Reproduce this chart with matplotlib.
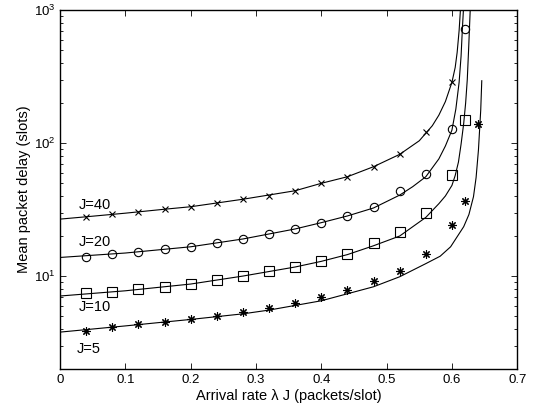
import matplotlib
matplotlib.use('Agg')
import matplotlib.pyplot as plt
from matplotlib.ticker import NullFormatter, LogLocator

plt.rcParams['font.family'] = ['Liberation Sans', 'DejaVu Sans']
plt.rcParams['mathtext.fontset'] = 'custom'
plt.rcParams['mathtext.rm'] = 'Liberation Sans'
plt.rcParams['mathtext.it'] = 'Liberation Sans:italic'

# analytic curves
j40_x = [0, 0.04, 0.1, 0.16, 0.2, 0.28, 0.36, 0.4, 0.44, 0.48, 0.52, 0.55, 0.57, 0.58,
         0.59, 0.6, 0.605, 0.608, 0.611, 0.613]
j40_y = [26.8, 27.9, 29.7, 31.8, 33.2, 37.8, 43.8, 49.8, 55.8, 66.4, 82.2, 104, 135, 162,
         205, 286, 370, 480, 700, 1000]
j20_x = [0, 0.1, 0.2, 0.28, 0.36, 0.4, 0.44, 0.48, 0.52, 0.54, 0.56, 0.58, 0.59, 0.6,
         0.606, 0.611, 0.614, 0.616, 0.6176]
j20_y = [13.8, 14.9, 16.6, 19.0, 22.6, 25.2, 28.3, 32.5, 40.6, 47, 55.8, 76, 95, 125,
         180, 286, 450, 720, 1000]
j10_x = [0, 0.1, 0.2, 0.28, 0.36, 0.4, 0.44, 0.48, 0.52, 0.56, 0.58, 0.59, 0.6, 0.605,
         0.61, 0.614, 0.618, 0.621, 0.6235, 0.6255, 0.628]
j10_y = [7.08, 7.75, 8.71, 10.0, 11.7, 12.9, 14.5, 16.9, 20.0, 27.6, 35, 40, 48, 57,
         72, 98, 140, 200, 300, 500, 1000]
j5_x = [0, 0.1, 0.2, 0.28, 0.32, 0.4, 0.48, 0.52, 0.56, 0.582, 0.598, 0.618, 0.626,
        0.633, 0.637, 0.6406, 0.6441, 0.6457]
j5_y = [3.79, 4.22, 4.72, 5.2, 5.55, 6.52, 8.31, 9.88, 12.4, 14.1, 16.6, 23.5, 29,
        39.5, 55, 88.6, 177, 294]

# simulation points
sim40_x = [0.04, 0.08, 0.12, 0.16, 0.2, 0.24, 0.28, 0.32, 0.36, 0.4, 0.44, 0.48, 0.52,
           0.56, 0.6]
sim40_y = [27.9, 29.1, 30.3, 31.8, 33.2, 35.2, 37.8, 40.2, 43.8, 49.8, 55.8, 66.4, 82.2,
           121.6, 286]
sim20_x = [0.04, 0.08, 0.12, 0.16, 0.2, 0.24, 0.28, 0.32, 0.36, 0.4, 0.44, 0.48, 0.52,
           0.56, 0.6, 0.62]
sim20_y = [14.0, 14.6, 15.2, 16.0, 16.6, 17.7, 19.0, 20.7, 22.6, 25.2, 28.3, 32.8, 43.3,
           58.8, 128, 720]
sim10_x = sim20_x
sim10_y = [7.41, 7.62, 7.94, 8.31, 8.71, 9.33, 10.0, 10.9, 11.75, 13.0, 14.7, 17.6, 21.5,
           29.6, 57.8, 148]
sim5_x = [0.04, 0.08, 0.12, 0.16, 0.2, 0.24, 0.28, 0.32, 0.36, 0.4, 0.44, 0.48, 0.52,
          0.56, 0.6, 0.62, 0.64]
sim5_y = [3.88, 4.11, 4.33, 4.51, 4.72, 5.0, 5.36, 5.71, 6.30, 6.98, 7.85, 9.17, 11.0,
          14.6, 24.3, 36.6, 139]

labels = ['J=40', 'J=20', 'J=10', 'J=5']
label_x = [0.028, 0.028, 0.028, 0.025]
label_y = [34.2, 17.9, 5.85, 2.83]

fig = plt.figure(figsize=(5.36, 4.17), dpi=100)
ax = fig.add_axes([0.112, 0.115, 0.853, 0.861])

for cx, cy in [(j40_x, j40_y), (j20_x, j20_y), (j10_x, j10_y), (j5_x, j5_y)]:
    ax.plot(cx, cy, 'k-', lw=0.8)

ax.plot(sim40_x, sim40_y, 'kx', ms=5, mew=0.8, ls='none')
ax.plot(sim20_x, sim20_y, 'ko', ms=6, mew=0.8, mfc='none', ls='none')
ax.plot(sim10_x, sim10_y, 'ks', ms=6.5, mew=0.8, mfc='none', ls='none')
ax.plot(sim5_x, sim5_y, 'k', marker=(8, 2, 0), ms=6, mew=0.8, ls='none')

for t, tx, ty in zip(labels, label_x, label_y):
    ax.text(tx, ty, t, fontsize=10.5, va='center', ha='left')

ax.set_yscale('log')
ax.set_xlim(0, 0.7)
ax.set_ylim(2, 1000)
ax.set_xticks([0, 0.1, 0.2, 0.3, 0.4, 0.5, 0.6, 0.7])
ax.set_xticklabels(['0', '0.1', '0.2', '0.3', '0.4', '0.5', '0.6', '0.7'])
ax.yaxis.set_major_locator(LogLocator(base=10, numticks=10))
ax.yaxis.set_minor_locator(LogLocator(base=10, subs=range(2, 10), numticks=20))
ax.yaxis.set_minor_formatter(NullFormatter())
ax.tick_params(which='both', direction='in', top=True, right=True, labelsize=9.5)
ax.tick_params(which='major', length=4, width=0.6)
ax.tick_params(which='minor', length=2.2, width=0.6)
for s in ax.spines.values():
    s.set_linewidth(1.0)

ax.set_xlabel('Arrival rate λ J (packets/slot)', fontsize=10.5, labelpad=2)
ax.set_ylabel('Mean packet delay (slots)', fontsize=10.5, labelpad=2)

fig.savefig('out.png', dpi=100)
